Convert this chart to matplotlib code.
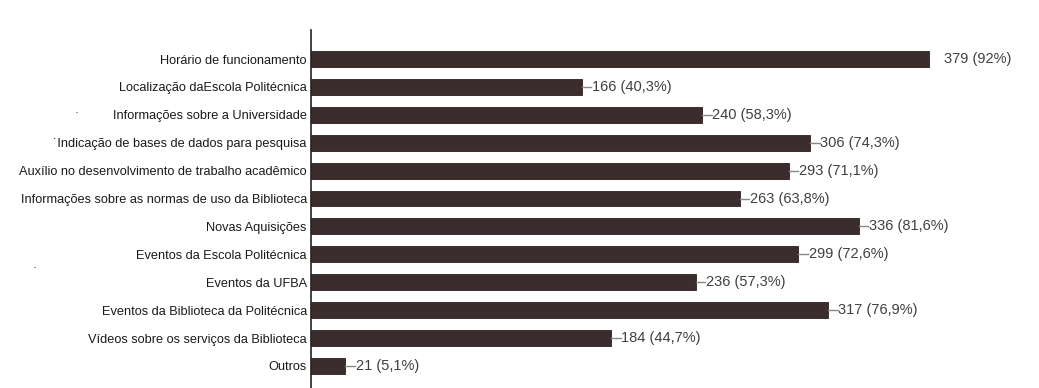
import matplotlib.pyplot as plt

categories = ["Horário de funcionamento",
              "Localização daEscola Politécnica",
              "Informações sobre a Universidade",
              "˙Indicação de bases de dados para pesquisa",
              "Auxílio no desenvolvimento de trabalho acadêmico",
              "Informações sobre as normas de uso da Biblioteca",
              "Novas Aquisições",
              "Eventos da Escola Politécnica",
              "Eventos da UFBA",
              "Eventos da Biblioteca da Politécnica",
              "Vídeos sobre os serviços da Biblioteca",
              "Outros"]
counts = [379, 166, 240, 306, 293, 263, 336, 299, 236, 317, 184, 21]
percents = ["92%", "40,3%", "58,3%", "74,3%", "71,1%", "63,8%",
            "81,6%", "72,6%", "57,3%", "76,9%", "44,7%", "5,1%"]

plt.rcParams['font.family'] = ['Liberation Sans', 'DejaVu Sans']

bar_color = "#3b2d2d"

fig = plt.figure(figsize=(10.39, 3.88), dpi=100)
ax = fig.add_axes([311 / 1039, 0.0, 1 - 311 / 1039, 1 - 30 / 388])

y = list(range(len(categories)))
ax.barh(y, counts, height=0.57, color=bar_color, edgecolor="#2a1f1f", linewidth=0.6)

for i, (c, p) in enumerate(zip(counts, percents)):
    label = f"{c} ({p})"
    if i == 0:
        ax.text(c + 9.5, i, label, va="center", ha="left", fontsize=10.5, color="#404040")
    else:
        ax.plot([c, c + 6], [i, i], color="#888888", lw=1)
        ax.text(c + 6.3, i, label, va="center", ha="left", fontsize=10.5, color="#404040")

ax.set_xlim(0, 446.6)
ax.set_ylim(11.79, -1.04)
ax.set_yticks(y)
ax.set_yticklabels(categories, fontsize=10, color="#1a1a1a")
ax.tick_params(axis="y", length=0, pad=3)
ax.set_xticks([])
for side in ["top", "right", "bottom"]:
    ax.spines[side].set_visible(False)
ax.spines["left"].set_color("#222222")
ax.spines["left"].set_linewidth(1.2)

# shrink the category labels so the longest one fits the width it has in the original
fig.canvas.draw()
renderer = fig.canvas.get_renderer()
widest = max(t.get_window_extent(renderer).width for t in ax.get_yticklabels())
size = 10 * 288 / widest
for t in ax.get_yticklabels():
    t.set_fontsize(size)

# stray marks from the original scan
fig.text(77 / 1039, 1 - 113 / 388, "·", fontsize=9, color="#333333", ha="center", va="center")
fig.text(35 / 1039, 1 - 268 / 388, "·", fontsize=9, color="#333333", ha="center", va="center")

fig.savefig("out.png", dpi=100, facecolor="white")
